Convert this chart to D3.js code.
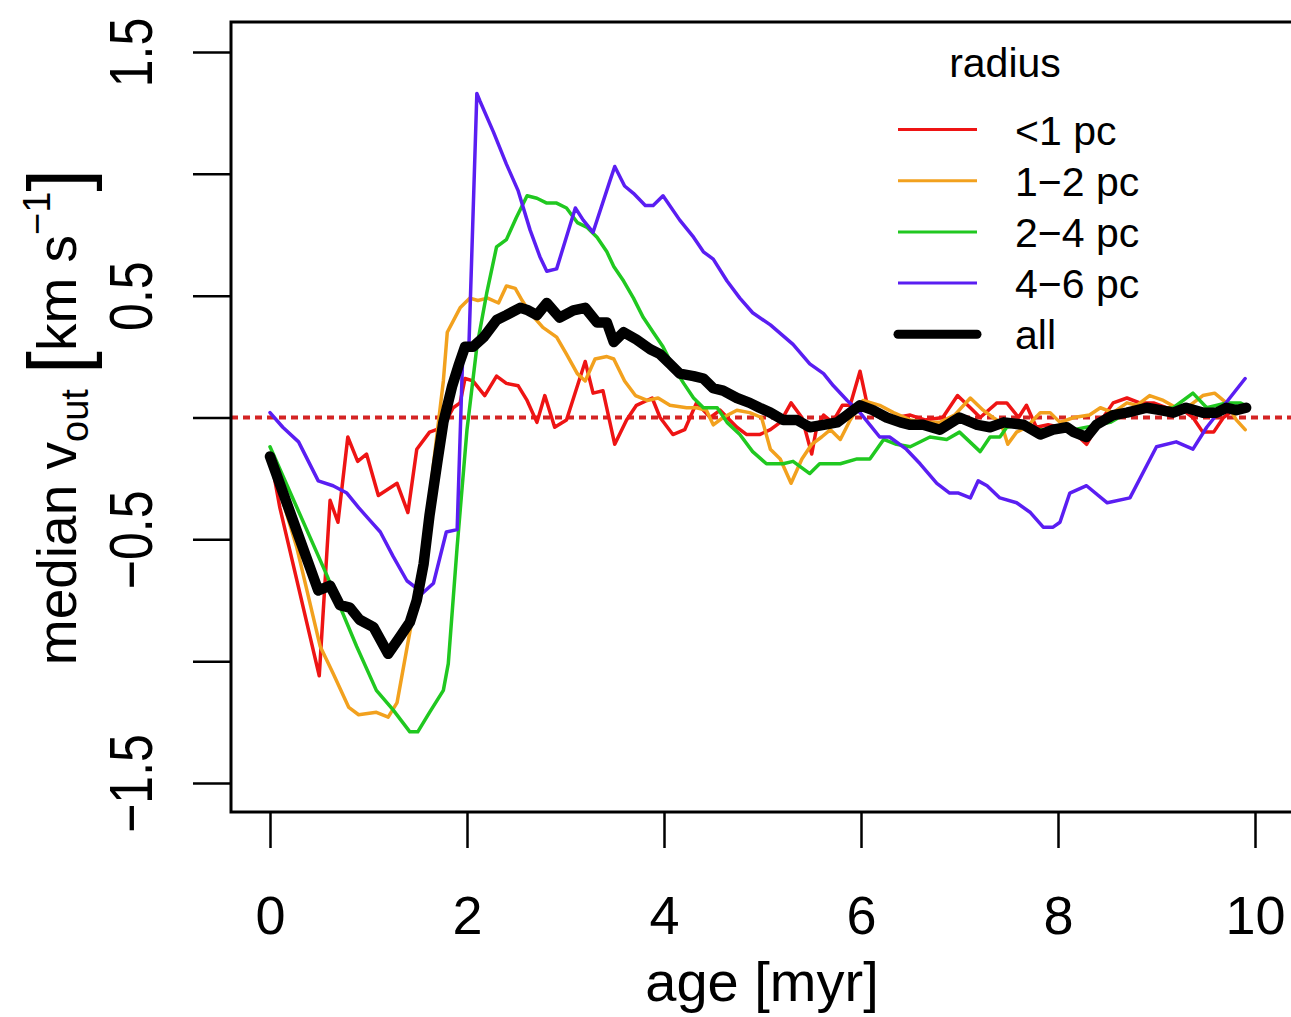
<!DOCTYPE html>
<html>
<head>
<meta charset="utf-8">
<script src="https://cdn.jsdelivr.net/npm/d3@7"></script>
<style>
  body { margin: 0; background: #fff; }
  svg { display: block; font-family: "Liberation Sans", Arial, sans-serif; }
</style>
</head>
<body>
<div id="chart"></div>
<script>
// median outward velocity vs age, per radius bin

const ageAll = [0, .49, .61, .71, .81, .91, 1.05, 1.2, 1.32, 1.42, 1.49, 1.56, 1.62, 1.7, 1.76, 1.85, 1.92, 1.98, 2.06, 2.17, 2.3, 2.4, 2.54, 2.62, 2.71, 2.81, 2.94, 3.08, 3.2, 3.32, 3.42, 3.49, 3.59, 3.72, 3.86, 3.96, 4.06, 4.16, 4.3, 4.4, 4.5, 4.6, 4.74, 4.87, 4.97, 5.08, 5.21, 5.35, 5.48, 5.62, 5.76, 5.89, 5.99, 6.12, 6.26, 6.4, 6.5, 6.63, 6.8, 7.0, 7.18, 7.31, 7.45, 7.65, 7.82, 7.95, 8.09, 8.16, 8.29, 8.39, 8.56, 8.7, 8.9, 9.04, 9.17, 9.3, 9.47, 9.61, 9.71, 9.81, 9.91]
const velAll = [-.16, -.71, -.69, -.77, -.78, -.83, -.86, -.97, -.9, -.84, -.75, -.6, -.4, -.18, -.02, .13, .22, .29, .29, .33, .40, .42, .45, .44, .42, .47, .41, .44, .45, .39, .39, .31, .35, .32, .28, .26, .22, .18, .17, .16, .12, .11, .08, .06, .04, .02, -.01, -.01, -.04, -.03, -.02, .02, .05, .03, 0, -.02, -.03, -.03, -.05, 0, -.03, -.04, -.02, -.03, -.07, -.05, -.04, -.06, -.08, -.03, .01, .02, .04, .03, .02, .04, .02, .02, .04, .03, .04]

const ageR1 = [0, .1, .5, .61, .69, .79, .89, .98, 1.1, 1.29, 1.4, 1.49, 1.62, 1.69, 1.78, 1.86, 1.93, 1.98, 2.06, 2.18, 2.3, 2.4, 2.52, 2.61, 2.71, 2.79, 2.89, 3.01, 3.2, 3.28, 3.38, 3.5, 3.62, 3.72, 3.88, 3.96, 4.09, 4.21, 4.33, 4.47, 4.57, 4.74, 4.84, 4.97, 5.08, 5.18, 5.29, 5.4, 5.5, 5.55, 5.62, 5.71, 5.81, 5.89, 5.99, 6.07, 6.19, 6.36, 6.5, 6.65, 6.83, 6.98, 7.11, 7.21, 7.38, 7.48, 7.6, 7.68, 7.78, 7.9, 8.02, 8.16, 8.29, 8.39, 8.56, 8.7, 8.83, 8.97, 9.1, 9.24, 9.37, 9.47, 9.58, 9.68, 9.78, 9.9]
const velR1 = [-.15, -.37, -1.06, -.34, -.43, -.08, -.18, -.15, -.32, -.27, -.39, -.13, -.06, -.05, -.02, .04, .06, .16, .15, .09, .17, .14, .13, .07, -.02, .09, -.04, -.01, .23, .10, .11, -.11, -.01, .05, .08, 0, -.07, -.05, .06, 0, .03, -.04, -.07, -.07, -.05, -.02, .06, 0, -.15, -.04, .01, -.02, .05, .05, .19, .04, .01, 0, .01, -.01, 0, .09, .04, 0, .06, .06, 0, .05, -.04, -.03, -.04, -.06, -.11, -.04, .06, .08, .06, .06, .04, .04, 0, -.06, -.06, 0, .03, .04]

const ageR2 = [0, .27, .51, .64, .8, .9, 1.08, 1.2, 1.29, 1.42, 1.55, 1.66, 1.76, 1.8, 1.93, 2.03, 2.11, 2.21, 2.32, 2.4, 2.49, 2.56, 2.64, 2.77, 2.91, 3.01, 3.12, 3.2, 3.3, 3.42, 3.49, 3.6, 3.71, 3.83, 3.94, 4.06, 4.23, 4.33, 4.43, 4.5, 4.6, 4.74, 4.87, 4.99, 5.08, 5.18, 5.29, 5.4, 5.5, 5.6, 5.69, 5.79, 5.89, 6.02, 6.19, 6.33, 6.5, 6.65, 6.8, 6.95, 7.11, 7.24, 7.34, 7.42, 7.49, 7.58, 7.68, 7.82, 7.92, 8.02, 8.16, 8.32, 8.43, 8.56, 8.7, 8.8, 8.93, 9.07, 9.2, 9.34, 9.47, 9.59, 9.71, 9.81, 9.9]
const velR2 = [-.17, -.53, -.94, -1.05, -1.19, -1.22, -1.21, -1.23, -1.17, -.88, -.6, -.19, .15, .35, .45, .49, .48, .49, .47, .54, .53, .48, .43, .37, .33, .26, .18, .15, .24, .25, .24, .15, .09, .07, .08, .05, .04, .04, .03, -.03, 0, .03, .02, 0, -.13, -.17, -.27, -.17, -.11, -.08, -.05, -.09, -.01, .07, .05, .02, -.01, -.02, -.02, .01, .08, .03, 0, -.02, -.11, -.06, -.04, .02, .02, -.02, 0, .01, .04, .02, .06, .05, .09, .07, .04, .05, .09, .1, .06, -.01, -.05]

const ageR4 = [0, .58, .88, 1.08, 1.25, 1.42, 1.5, 1.62, 1.76, 1.81, 1.9, 2.0, 2.1, 2.2, 2.3, 2.4, 2.5, 2.61, 2.71, 2.81, 2.91, 3.01, 3.12, 3.22, 3.32, 3.42, 3.49, 3.59, 3.69, 3.79, 3.89, 3.99, 4.09, 4.2, 4.3, 4.4, 4.54, 4.64, 4.77, 4.9, 5.04, 5.21, 5.31, 5.48, 5.58, 5.79, 5.96, 6.09, 6.23, 6.36, 6.5, 6.7, 6.87, 7.0, 7.21, 7.31, 7.41, 7.48, 7.6, 7.8, 8.0, 8.16, 8.29, 8.53, 8.7, 8.97, 9.17, 9.37, 9.51, 9.71, 9.85, 9.9]
const velR4 = [-.12, -.65, -.94, -1.12, -1.2, -1.29, -1.29, -1.21, -1.12, -1.01, -.53, -.05, .29, .51, .7, .73, .82, .91, .9, .88, .88, .86, .8, .78, .74, .68, .62, .56, .49, .41, .35, .29, .21, .14, .08, .04, .04, -.02, -.07, -.14, -.19, -.19, -.18, -.23, -.19, -.19, -.17, -.17, -.09, -.11, -.12, -.08, -.09, -.06, -.14, -.08, -.08, -.04, -.03, -.05, -.05, -.05, -.04, -.02, .02, .03, .04, .1, .04, .06, .06, .05]

const ageR6 = [0, .13, .29, .49, .64, .78, .9, 1.01, 1.12, 1.25, 1.39, 1.55, 1.66, 1.79, 1.9, 1.96, 2.02, 2.1, 2.13, 2.27, 2.4, 2.52, 2.64, 2.74, 2.81, 2.91, 3.1, 3.18, 3.28, 3.45, 3.5, 3.6, 3.69, 3.81, 3.89, 3.99, 4.16, 4.3, 4.4, 4.5, 4.64, 4.77, 4.9, 5.08, 5.31, 5.48, 5.62, 5.72, 5.86, 5.99, 6.19, 6.29, 6.46, 6.6, 6.77, 6.9, 6.99, 7.11, 7.19, 7.28, 7.41, 7.58, 7.72, 7.85, 7.95, 8.02, 8.12, 8.29, 8.5, 8.73, 9.0, 9.2, 9.37, 9.51, 9.9]
const velR6 = [.02, -.04, -.1, -.26, -.28, -.31, -.37, -.42, -.47, -.57, -.67, -.72, -.68, -.47, -.46, .30, .30, 1.33, 1.3, 1.17, 1.04, .93, .77, .66, .6, .61, .86, .81, .76, .97, 1.03, .95, .92, .87, .87, .91, .81, .74, .68, .65, .56, .49, .43, .38, .3, .22, .18, .13, .07, .02, -.08, -.08, -.13, -.19, -.27, -.31, -.31, -.33, -.26, -.28, -.33, -.35, -.39, -.45, -.45, -.43, -.31, -.28, -.35, -.33, -.12, -.1, -.13, -.04, .16]

const legendLabels = ["<1 pc", "1\u22122 pc", "2\u22124 pc", "4\u22126 pc", "all"]
const xTicks = [0, 2, 4, 6, 8, 10]
const yTicks = [-1.5, -1, -0.5, 0, 0.5, 1, 1.5]

const width = 1291, height = 1017
const box = { left: 231, top: 22, right: 1300, bottom: 812 }

const svg = d3.select("#chart").append("svg")
    .attr("width", width)
    .attr("height", height)

const x = d3.scaleLinear().domain([0, 10]).range([270, 1255])
const y = d3.scaleLinear().domain([-1.5, 1.5]).range([783, 52])

const series = [
    { ages: ageR1, vals: velR1, color: "#ee1414", w: 3.5 },
    { ages: ageR2, vals: velR2, color: "#f2a11e", w: 3.5 },
    { ages: ageR4, vals: velR4, color: "#20c820", w: 3.5 },
    { ages: ageR6, vals: velR6, color: "#5a1ef2", w: 3.5 },
    { ages: ageAll, vals: velAll, color: "#000", w: 10.5 }
]

const line = d3.line()
    .x(d => x(d[0]))
    .y(d => y(d[1]))

// zero reference
svg.append("line")
    .attr("x1", box.left).attr("x2", width)
    .attr("y1", y(0)).attr("y2", y(0))
    .attr("stroke", "#d42424")
    .attr("stroke-width", 4)
    .attr("stroke-dasharray", "7,5")

series.forEach(s => {
    svg.append("path")
        .datum(s.ages.map((a, i) => [a, s.vals[i]]))
        .attr("d", line)
        .attr("fill", "none")
        .attr("stroke", s.color)
        .attr("stroke-width", s.w)
        .attr("stroke-linejoin", "round")
        .attr("stroke-linecap", "round")
})

// plot frame
svg.append("rect")
    .attr("x", box.left).attr("y", box.top)
    .attr("width", box.right - box.left)
    .attr("height", box.bottom - box.top)
    .attr("fill", "none")
    .attr("stroke", "#000")
    .attr("stroke-width", 3)

// x axis
const gx = svg.append("g")
    .attr("transform", `translate(0,${box.bottom})`)
    .call(d3.axisBottom(x).tickValues(xTicks).tickSize(36).tickPadding(48).tickFormat(d3.format("d")))
gx.select(".domain").remove()
gx.selectAll(".tick line").attr("stroke-width", 2.5)
gx.selectAll(".tick text")
    .attr("font-size", 54)
    .attr("font-family", "Liberation Sans, Arial, sans-serif")
    .attr("fill", "#000")

// y axis, only every other tick gets a label
const gy = svg.append("g")
    .attr("transform", `translate(${box.left},0)`)
    .call(d3.axisLeft(y).tickValues(yTicks).tickSize(38)
        .tickFormat(d => (Math.round(d * 2) % 2 !== 0) ? d3.format(".1f")(d) : ""))
gy.select(".domain").remove()
gy.selectAll(".tick line").attr("stroke-width", 2.5)
gy.selectAll(".tick text")
    .attr("x", null)
    .attr("dy", null)
    .attr("text-anchor", "middle")
    .attr("transform", "translate(-79,0) rotate(-90) scale(0.82,1)")
    .attr("font-size", 61)
    .attr("font-family", "Liberation Sans, Arial, sans-serif")
    .attr("fill", "#000")

// axis titles
svg.append("text")
    .attr("x", 762).attr("y", 1001)
    .attr("text-anchor", "middle")
    .attr("font-size", 56)
    .text("age [myr]")

const ytitle = svg.append("text")
    .attr("transform", "translate(76,417) rotate(-90)")
    .attr("text-anchor", "middle")
    .attr("font-size", 55)
ytitle.append("tspan").text("median v")
ytitle.append("tspan").attr("font-size", 38).attr("dy", 12).text("out")
ytitle.append("tspan").attr("dy", -12).text(" ")
ytitle.append("tspan").attr("font-size", 82).attr("dy", 9).text("[")
ytitle.append("tspan").attr("dy", -9).text("km s")
ytitle.append("tspan").attr("font-size", 38).attr("dy", -26).text("\u22121")
ytitle.append("tspan").attr("font-size", 82).attr("dy", 35).text("]")

// legend
const legend = svg.append("g")
legend.append("text")
    .attr("x", 1005).attr("y", 77)
    .attr("text-anchor", "middle")
    .attr("font-size", 41)
    .text("radius")

legendLabels.forEach((lab, i) => {
    const ly = 129.5 + i * 51.2
    legend.append("line")
        .attr("x1", 898).attr("x2", 977)
        .attr("y1", ly).attr("y2", ly)
        .attr("stroke", series[i].color)
        .attr("stroke-width", i === 4 ? 9 : 3)
        .attr("stroke-linecap", i === 4 ? "round" : "butt")
    legend.append("text")
        .attr("x", 1015).attr("y", ly + 15)
        .attr("font-size", 41)
        .text(lab)
})
</script>
</body>
</html>
